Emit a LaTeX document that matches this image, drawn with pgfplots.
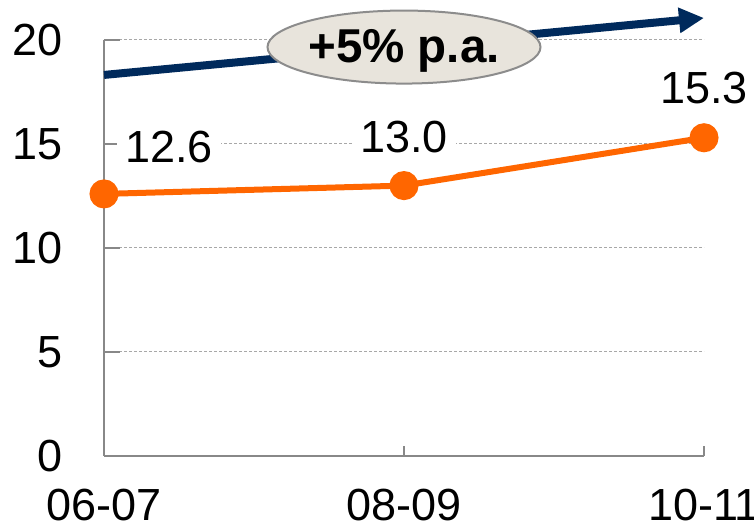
\documentclass[border=0pt]{standalone}
\usepackage{pgfplots}
\pgfplotsset{compat=1.18}
\usepackage{fontspec}
\setmainfont{Liberation Sans}
\usetikzlibrary{shapes.geometric,arrows.meta}

\definecolor{trendorange}{HTML}{FF6600}
\definecolor{arrownavy}{HTML}{002A5C}
\definecolor{axisgray}{HTML}{888888}
\definecolor{gridgray}{HTML}{A8A8A8}
\definecolor{bubblefill}{HTML}{E8E4DC}
\definecolor{bubbleedge}{HTML}{8C8C8C}

\begin{document}
\begin{tikzpicture}[font=\fontsize{45}{54}\selectfont]
\begin{axis}[
  at={(0,0)}, anchor=south west,
  scale only axis,
  width=600pt, height=416pt,
  xmin=0, xmax=2, ymin=0, ymax=20,
  axis x line=bottom, axis y line=left,
  axis line style={-, axisgray, line width=2pt},
  xtick={0,1,2},
  xticklabels={06-07,08-09,10-11},
  ytick={0,5,10,15,20},
  tick align=inside,
  major tick length=16pt,
  tick style={axisgray, line width=2pt},
  xtick style={/pgfplots/major tick length=10pt},
  ymajorgrids,
  major grid style={gridgray, line width=1pt, dash pattern=on 3pt off 2pt},
  /pgf/number format/assume math mode=true,
  yticklabel style={anchor=east, inner sep=0pt, xshift=-41pt},
  xticklabel style={anchor=north, inner sep=0pt, yshift=-33pt},
  clip=false,
]
% growth arrow behind the bubble
\addplot[arrownavy, line width=8pt,
  -{Triangle[length=25pt, width=24pt]}]
  coordinates {(0,18.32) (2,21.06)};
\node[ellipse, draw=bubbleedge, line width=2pt, fill=bubblefill,
  minimum width=273pt, minimum height=73pt, inner sep=0pt,
  text height=31pt, text depth=0pt,
  font=\fontsize{47.5}{56}\selectfont\bfseries]
  at (axis cs:1,19.66) {+5\% p.a.};

% yearly values
\addplot[trendorange, line width=6pt, mark=*,
  mark options={scale=1, fill=trendorange, draw=trendorange},
  mark size=11.5pt]
  coordinates {(0,12.6) (1,13.0) (2,15.3)};

\node[fill=white, inner sep=8pt, xshift=65pt, yshift=47pt]
  at (axis cs:0,12.6) {12.6};
\node[fill=white, inner sep=8pt, yshift=49pt]
  at (axis cs:1,13.0) {13.0};
\node[fill=white, inner sep=8pt, yshift=50pt]
  at (axis cs:2,15.3) {15.3};
\end{axis}
\pgfresetboundingbox
\useasboundingbox (-104pt,-73pt) rectangle (650pt,456pt);
\end{tikzpicture}
\end{document}
